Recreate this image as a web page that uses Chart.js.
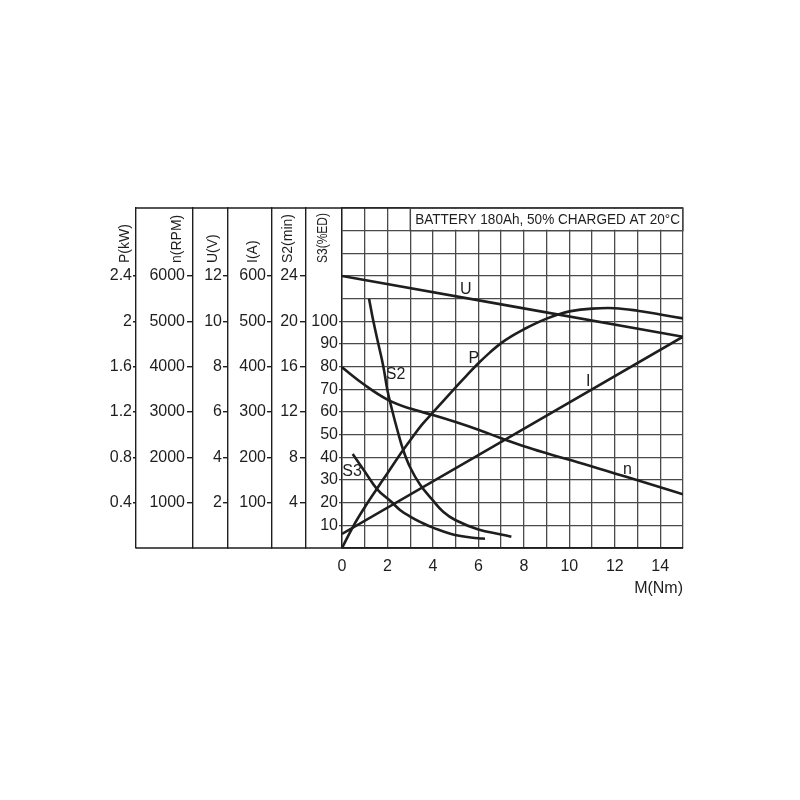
<!DOCTYPE html>
<html>
<head>
<meta charset="utf-8">
<title>Motor characteristics</title>
<script src="https://cdn.jsdelivr.net/npm/chart.js@4.4.1/dist/chart.umd.min.js"></script>
<style>
  html, body { margin: 0; padding: 0; background: #ffffff; }
  canvas { display: block; }
</style>
</head>
<body>
<canvas id="chart" width="800" height="800"></canvas>
<script>
// Torque axis M (Nm): gridlines every 1 Nm, labels every 2 Nm
const torqueGrid = [0, 1, 2, 3, 4, 5, 6, 7, 8, 9, 10, 11, 12, 13, 14, 15];
const torqueTicks = [0, 2, 4, 6, 8, 10, 12, 14];

// Terminal voltage U (V)
const uTorque = [0, 15];
const uVolts = [12.0, 9.32];

// Current I (A)
const iTorque = [0, 15];
const iAmps = [31, 466];

// Speed n (RPM)
const nTorque = [0, 1, 2, 3, 4, 5, 6, 7, 8, 9, 10, 11, 12, 13, 14, 15];
const nRpm = [3985, 3595, 3275, 3075, 2935, 2780, 2610, 2420, 2245, 2090, 1945, 1800, 1645, 1495, 1340, 1185];

// Output power P (kW)
const pTorque = [0, 0.5, 1, 1.5, 2, 2.5, 3, 3.5, 4, 4.5, 5, 5.5, 6, 6.5, 7, 7.5, 8, 8.5, 9, 9.5, 10, 11, 12, 13, 14, 15];
const pKw = [0, 0.194, 0.36, 0.512, 0.66, 0.81, 0.95, 1.084, 1.196, 1.308, 1.418, 1.526, 1.63, 1.724, 1.808, 1.874, 1.93, 1.98, 2.024, 2.06, 2.088, 2.112, 2.116, 2.094, 2.06, 2.026];

// S2 short-time duty (min)
const s2Torque = [1.19, 1.38, 1.6, 1.82, 2.0, 2.2, 2.45, 2.7, 3.0, 3.43, 4.0, 4.45, 5.0, 6.0, 7.0, 7.45];
const s2Min = [22, 20, 18, 16, 13.9, 12.2, 10.3, 8.6, 7.1, 5.6, 4.2, 3.2, 2.45, 1.64, 1.2, 1.0];

// S3 intermittent duty (%ED)
const s3Torque = [0.47, 1.0, 1.55, 2.17, 2.55, 2.96, 3.5, 3.97, 4.97, 5.99, 6.29];
const s3Ed = [41.5, 33.8, 25.9, 20.4, 16.8, 14.1, 11.2, 9.1, 5.7, 4.3, 4.1];

// Tick labels of the stacked left-hand scales
const pTicks = [0.4, 0.8, 1.2, 1.6, 2, 2.4];
const nTicks = [1000, 2000, 3000, 4000, 5000, 6000];
const uTicks = [2, 4, 6, 8, 10, 12];
const iTicks = [100, 200, 300, 400, 500, 600];
const s2Ticks = [4, 8, 12, 16, 20, 24];
const s3Ticks = [10, 20, 30, 40, 50, 60, 70, 80, 90, 100];
const s3Grid = [0, 10, 20, 30, 40, 50, 60, 70, 80, 90, 100, 110, 120, 130, 140, 150];

const INK = '#1e1e1e';
const GRID = '#4a4a4a';
const FONT_FAMILY = "'Liberation Sans', Arial, sans-serif";
const tickFont = { family: FONT_FAMILY, size: 16 };

const pairs = (xs, ys) => xs.map((x, k) => ({ x: x, y: ys[k] }));

function sideAxis(max, ticks, width, weight, tickLength, padding, title, titleInset) {
  return {
    type: 'linear',
    position: 'left',
    min: 0,
    max: max,
    weight: weight,
    afterBuildTicks: s => { s.ticks = ticks.map(v => ({ value: v })); },
    afterFit: s => { s.width = width; },
    grid: { drawOnChartArea: false, drawTicks: true, tickLength: tickLength, color: INK, lineWidth: 1.4 },
    border: { display: true, color: INK, width: 1.4 },
    ticks: { font: tickFont, color: INK, padding: padding, autoSkip: false, callback: v => String(v) },
    axisTitle: title,
    titleInset: titleInset
  };
}

function curve(label, data, axis) {
  return {
    label: label,
    data: data,
    yAxisID: axis,
    borderColor: INK,
    borderWidth: 2.6,
    pointRadius: 0,
    fill: false,
    tension: 0.4
  };
}

// Frame, header box, vertical axis titles and curve names
const annotations = {
  id: 'annotations',
  afterDraw(chart) {
    const { ctx, chartArea, scales } = chart;
    const x = scales.x, p = scales.p, s3 = scales.s3;
    ctx.save();

    // outer frame lines across the scale columns
    ctx.strokeStyle = INK;
    ctx.lineWidth = 1.4;
    ctx.beginPath();
    ctx.moveTo(p.right, chartArea.top); ctx.lineTo(chartArea.right, chartArea.top);
    ctx.moveTo(p.right, chartArea.bottom); ctx.lineTo(chartArea.right, chartArea.bottom);
    ctx.stroke();

    // header box in the top row
    const bx0 = x.getPixelForValue(3), bx1 = chartArea.right;
    const by0 = chartArea.top, by1 = s3.getPixelForValue(140);
    ctx.fillStyle = '#ffffff';
    ctx.fillRect(bx0 + 1, by0 + 1, bx1 - bx0 - 2, by1 - by0 - 2);
    ctx.strokeStyle = GRID;
    ctx.lineWidth = 1.3;
    ctx.strokeRect(bx0, by0, bx1 - bx0, by1 - by0);
    ctx.fillStyle = INK;
    ctx.font = "15px " + FONT_FAMILY;
    ctx.textAlign = 'center';
    ctx.textBaseline = 'middle';
    ctx.fillText('BATTERY 180Ah, 50% CHARGED AT 20\u00B0C', (bx0 + bx1) / 2 + 1, (by0 + by1) / 2 + 1, bx1 - bx0 - 8);

    // rotated titles at the top of each scale column
    ctx.font = "14px " + FONT_FAMILY;
    ctx.textAlign = 'left';
    for (const id of ['p', 'n', 'u', 'i', 's2', 's3']) {
      const sc = scales[id];
      const o = sc.options;
      ctx.save();
      ctx.translate(sc.right - o.titleInset, chartArea.top + 55);
      ctx.rotate(-Math.PI / 2);
      ctx.fillText(o.axisTitle, 0, 0, 50);
      ctx.restore();
    }

    // curve names, placed in torque / power coordinates
    ctx.font = "16px " + FONT_FAMILY;
    ctx.textAlign = 'center';
    const names = [
      ['U', 5.45, 2.276], ['P', 5.8, 1.668], ['I', 10.83, 1.468],
      ['n', 12.56, 0.688], ['S2', 2.36, 1.526], ['S3', 0.44, 0.674]
    ];
    for (const [t, m, kw] of names) {
      ctx.fillText(t, x.getPixelForValue(m), p.getPixelForValue(kw));
    }
    ctx.restore();
  }
};

new Chart(document.getElementById('chart'), {
  type: 'line',
  data: {
    datasets: [
      curve('U', pairs(uTorque, uVolts), 'u'),
      curve('I', pairs(iTorque, iAmps), 'i'),
      curve('n', pairs(nTorque, nRpm), 'n'),
      curve('P', pairs(pTorque, pKw), 'p'),
      curve('S2', pairs(s2Torque, s2Min), 's2'),
      curve('S3', pairs(s3Torque, s3Ed), 's3')
    ]
  },
  options: {
    responsive: false,
    animation: false,
    events: [],
    layout: { padding: { left: 0, right: 117, top: 208, bottom: 192 } },
    plugins: { legend: { display: false }, tooltip: { enabled: false } },
    scales: {
      x: {
        type: 'linear',
        min: 0,
        max: 15,
        afterBuildTicks: s => { s.ticks = torqueGrid.map(v => ({ value: v })); },
        afterFit: s => { s.height = 60; },
        grid: { color: GRID, lineWidth: 1.3, drawTicks: false },
        border: { display: true, color: INK, width: 1.4 },
        ticks: {
          font: tickFont, color: INK, padding: 9, autoSkip: false, maxRotation: 0,
          callback: v => (torqueTicks.includes(v) ? String(v) : '')
        },
        title: { display: true, text: 'M(Nm)', align: 'end', color: INK, font: tickFont, padding: { top: 0, bottom: 10 } }
      },
      p: sideAxis(3.0, pTicks, 136, 6, 3, 1, 'P(kW)', 11),
      n: sideAxis(7500, nTicks, 57, 5, 6, 2, 'n(RPM)', 16),
      u: sideAxis(15, uTicks, 35, 4, 5, 1, 'U(V)', 15),
      i: sideAxis(750, iTicks, 44, 3, 5, 1, 'I(A)', 19),
      s2: sideAxis(30, s2Ticks, 34, 2, 6, 2, 'S2(min)', 18),
      s3: {
        type: 'linear',
        position: 'left',
        min: 0,
        max: 150,
        weight: 1,
        afterBuildTicks: s => { s.ticks = s3Grid.map(v => ({ value: v })); },
        afterFit: s => { s.width = 36; },
        grid: {
          drawOnChartArea: true, drawTicks: true, tickLength: 3, color: GRID, lineWidth: 1.3,
          tickColor: c => (s3Ticks.includes(c.tick.value) ? GRID : 'rgba(0,0,0,0)')
        },
        border: { display: true, color: INK, width: 1.4 },
        ticks: {
          font: tickFont, color: INK, padding: 1, autoSkip: false,
          callback: v => (s3Ticks.includes(v) ? String(v) : '')
        },
        axisTitle: 'S3(%ED)',
        titleInset: 19
      }
    }
  },
  plugins: [annotations]
});
</script>
</body>
</html>
